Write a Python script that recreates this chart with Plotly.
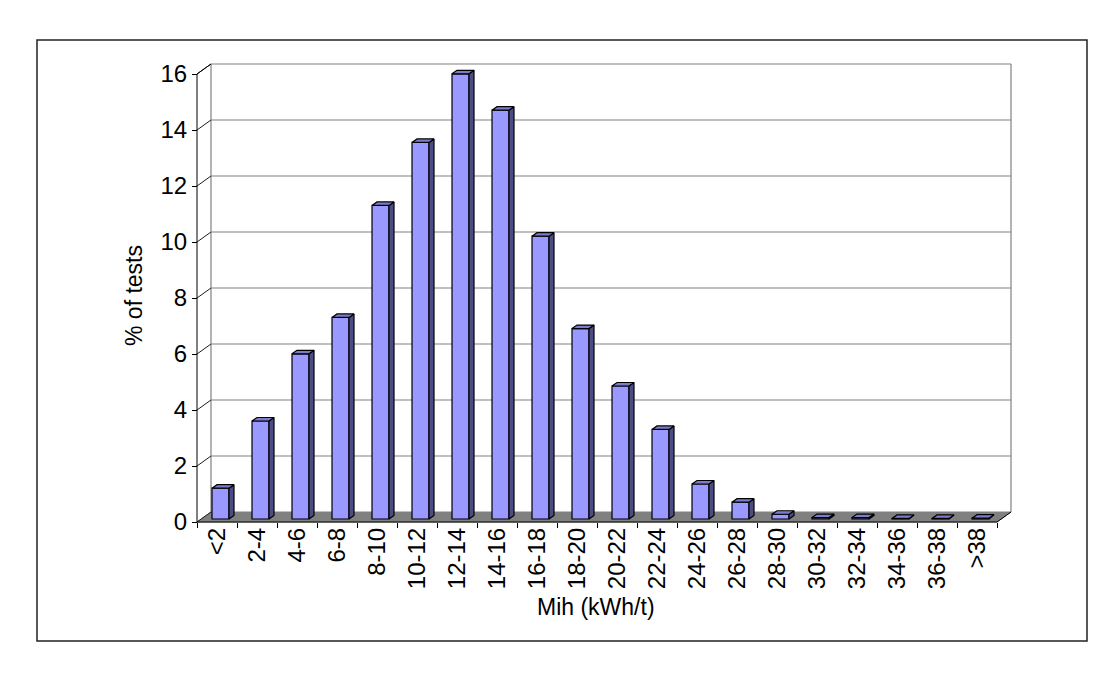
import plotly.graph_objects as go

categories = ["<2", "2-4", "4-6", "6-8", "8-10", "10-12", "12-14", "14-16", "16-18", "18-20",
              "20-22", "22-24", "24-26", "26-28", "28-30", "30-32", "32-34", "34-36", "36-38", ">38"]
pct_tests = [1.1, 3.5, 5.9, 7.2, 11.2, 13.45, 15.9, 14.6, 10.1, 6.8,
             4.75, 3.2, 1.25, 0.6, 0.17, 0.05, 0.05, 0.02, 0.02, 0.03]
y_ticks = [0, 2, 4, 6, 8, 10, 12, 14, 16]
x_title = "Mih (kWh/t)"
y_title = "% of tests"

FONT = "Liberation Sans, Arial, sans-serif"
TICK_SIZE = 24
TITLE_SIZE = 23
# pseudo-3D geometry (axis units)
WALL_DX, WALL_DY = 0.35, 10 / 28
BAR_X0, BAR_W, BAR_BASE = -0.125, 0.425, 0.107
BAR_DX, BAR_DY = 0.125, 0.125

n = len(categories)
idx = list(range(n))
xl, xr = -0.5, n - 0.5
ytop = max(y_ticks)

# plot area layout (pixels)
W, H = 1118, 678
ML, MR, MT, MB = 187, 101, 60, 149
PW, PH = W - ML - MR, H - MT - MB
XR = [-0.75, 20.0]
YR = [-0.25, 16.5]


def px2paper(px, py):
    return (px - ML) / PW, (H - MB - py) / PH


shapes = []
# floor
shapes.append(dict(type="path", xref="x", yref="y", layer="below",
                   path=f"M {xl},0 L {xr},0 L {xr + WALL_DX},{WALL_DY} L {xl + WALL_DX},{WALL_DY} Z",
                   fillcolor="#808080", line=dict(color="#808080", width=1)))
# back wall gridlines
for v in y_ticks[1:]:
    shapes.append(dict(type="line", xref="x", yref="y", layer="below",
                       x0=xl + WALL_DX, x1=xr + WALL_DX, y0=v + WALL_DY, y1=v + WALL_DY,
                       line=dict(color="#808080", width=1.2)))
# back wall side edges
for xx in (xl + WALL_DX, xr + WALL_DX):
    shapes.append(dict(type="line", xref="x", yref="y", layer="below",
                       x0=xx, x1=xx, y0=WALL_DY, y1=ytop + WALL_DY,
                       line=dict(color="#808080", width=1.2)))
# left wall diagonals
for v in y_ticks:
    shapes.append(dict(type="line", xref="x", yref="y", layer="below",
                       x0=xl, x1=xl + WALL_DX, y0=v, y1=v + WALL_DY,
                       line=dict(color="#202020", width=1)))
# outer border
bx0, by0 = px2paper(37, 641)
bx1, by1 = px2paper(1087, 40)
shapes.append(dict(type="rect", xref="paper", yref="paper", x0=bx0, x1=bx1, y0=by0, y1=by1,
                   line=dict(color="#222222", width=1.5), fillcolor="rgba(0,0,0,0)"))

fig = go.Figure()

# front faces
fig.add_trace(go.Bar(x=[i + BAR_X0 + BAR_W / 2 for i in idx], y=pct_tests, base=BAR_BASE,
                     width=BAR_W, marker=dict(color="#9999FF", line=dict(color="black", width=1.2)),
                     hoverinfo="skip"))

# side and top faces
sx, sy, tx, ty = [], [], [], []
for i, v in zip(idx, pct_tests):
    a = i + BAR_X0
    b = a + BAR_W
    sx += [b, b + BAR_DX, b + BAR_DX, b, b, None]
    sy += [BAR_BASE, BAR_BASE + BAR_DY, BAR_BASE + BAR_DY + v, BAR_BASE + v, BAR_BASE, None]
    tx += [a, b, b + BAR_DX, a + BAR_DX, a, None]
    ty += [BAR_BASE + v, BAR_BASE + v, BAR_BASE + v + BAR_DY, BAR_BASE + v + BAR_DY, BAR_BASE + v, None]
fig.add_trace(go.Scatter(x=sx, y=sy, mode="lines", fill="toself", fillcolor="#4C4C85",
                         line=dict(color="black", width=1.2), hoverinfo="skip"))
fig.add_trace(go.Scatter(x=tx, y=ty, mode="lines", fill="toself", fillcolor="#7C7CCC",
                         line=dict(color="black", width=1.2), hoverinfo="skip"))

# axis lines
fig.add_trace(go.Scatter(x=[xl, xl, xl + WALL_DX], y=[0, ytop, ytop + WALL_DY], mode="lines",
                         line=dict(color="black", width=1), hoverinfo="skip"))
fig.add_trace(go.Scatter(x=[xl, xr, xr + WALL_DX], y=[0, 0, WALL_DY], mode="lines",
                         line=dict(color="black", width=1), hoverinfo="skip"))

xt, yt = px2paper(596, 607)
yx, yy = px2paper(134, 296)
annotations = [
    dict(text=x_title, xref="paper", yref="paper", x=xt, y=yt, xanchor="center", yanchor="middle",
         showarrow=False, font=dict(family=FONT, size=TITLE_SIZE, color="black")),
    dict(text=y_title, xref="paper", yref="paper", x=yx, y=yy, xanchor="center", yanchor="middle",
         textangle=-90, showarrow=False, font=dict(family=FONT, size=TITLE_SIZE, color="black")),
]

fig.update_layout(
    width=W, height=H, autosize=False,
    margin=dict(l=ML, r=MR, t=MT, b=MB, pad=0),
    paper_bgcolor="white", plot_bgcolor="white",
    showlegend=False, shapes=shapes, annotations=annotations,
    font=dict(family=FONT, size=TICK_SIZE, color="black"),
    xaxis=dict(range=XR, anchor="free", position=((H - MB) - 522) / PH,
               tickmode="array", tickvals=idx, ticktext=categories, tickangle=-90,
               ticks="", showgrid=False, zeroline=False, showline=False,
               tickfont=dict(family=FONT, size=TICK_SIZE, color="black"),
               minor=dict(tickmode="array", tickvals=[i - 0.5 for i in range(n + 1)],
                          ticks="outside", ticklen=5, tickcolor="black", tickwidth=1, showgrid=False)),
    yaxis=dict(range=YR, anchor="free", position=(197 - ML) / PW,
               tickmode="array", tickvals=y_ticks, ticks="outside", ticklen=5,
               tickcolor="black", tickwidth=1, showgrid=False, zeroline=False, showline=False,
               tickfont=dict(family=FONT, size=TICK_SIZE, color="black")),
)

fig.write_html("out.html")
